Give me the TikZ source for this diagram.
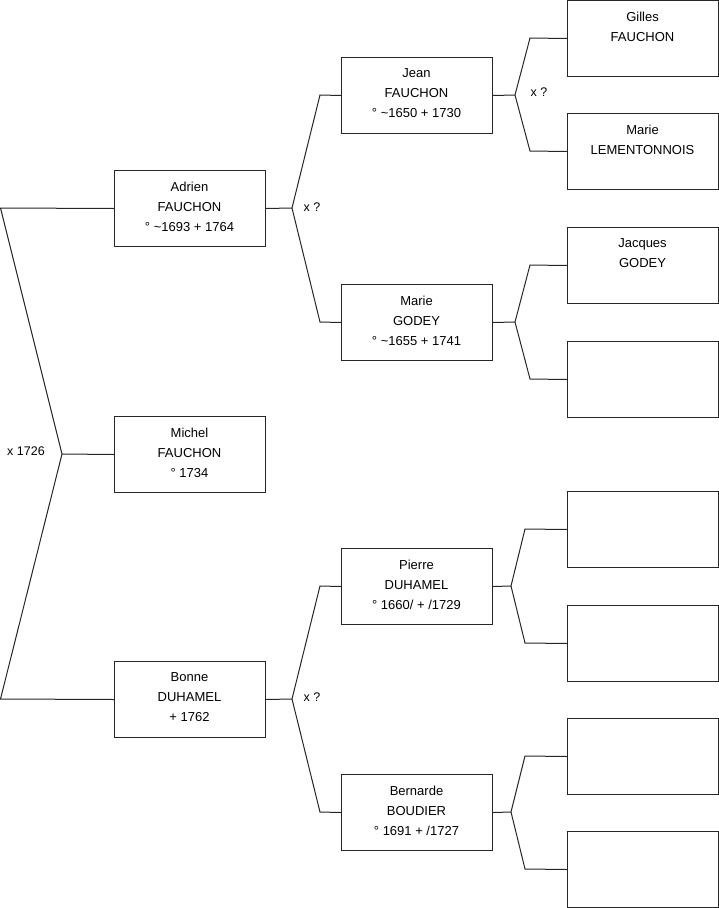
\documentclass[tikz,border=0pt]{standalone}
\usepackage{fontspec}
\setmainfont{Liberation Sans}
\begin{document}
\begin{tikzpicture}[x=1pt,y=-1pt,
  pbox/.style={draw=black!85,line width=1pt,fill=white,minimum width=151pt,minimum height=76pt,inner sep=0pt,anchor=north west},
  ptext/.style={anchor=north,inner sep=0pt,align=center,font=\fontsize{13}{20}\selectfont},
  conn/.style={draw=black!85,line width=1pt},
  lbl/.style={inner sep=0pt,font=\fontsize{12.5}{14}\selectfont}]
\useasboundingbox (0,0) rectangle (719,908);
% generation 1
\node[pbox] (A) at (114,170) {};
\node[pbox] (M) at (114,416) {};
\node[pbox] (B) at (114,661) {};
% generation 2
\node[pbox] (J) at (341,57) {};
\node[pbox] (G) at (341,284) {};
\node[pbox] (P) at (341,548) {};
\node[pbox] (BB) at (341,774) {};
% generation 3
\node[pbox] (g1) at (567,0) {};
\node[pbox] (g2) at (567,113) {};
\node[pbox] (g3) at (567,227) {};
\node[pbox] (g4) at (567,341) {};
\node[pbox] (g5) at (567,491) {};
\node[pbox] (g6) at (567,605) {};
\node[pbox] (g7) at (567,718) {};
\node[pbox] (g8) at (567,831) {};
% texts
\node[ptext] (tA) at (189.5,181.5) {Adrien\\FAUCHON\\° \textasciitilde 1693 + 1764};
\node[ptext] (tM) at (189.5,427.5) {Michel\\FAUCHON\\° 1734};
\node[ptext] (tB) at (189.5,672.5) {Bonne\\DUHAMEL\\+ 1762};
\node[ptext] (tJ) at (416.5,68.5) {Jean\\FAUCHON\\° \textasciitilde 1650 + 1730};
\node[ptext] (tG) at (416.5,295.5) {Marie\\GODEY\\° \textasciitilde 1655 + 1741};
\node[ptext] (tP) at (416.5,559.5) {Pierre\\DUHAMEL\\° 1660/ + /1729};
\node[ptext] (tBB) at (416.5,785.5) {Bernarde\\BOUDIER\\° 1691 + /1727};
\node[ptext] (t1) at (642.5,11.5) {Gilles\\FAUCHON};
\node[ptext] (t2) at (642.5,124.5) {Marie\\LEMENTONNOIS};
\node[ptext] (t3) at (642.5,238.5) {Jacques\\GODEY};
% junction coordinates
\coordinate (jM) at (62,454);
\coordinate (jMa) at (0.5,208);
\coordinate (jMb) at (0.5,699);
\coordinate (jA) at (292,208);
\coordinate (jAa) at (320,95);
\coordinate (jAb) at (320,322);
\coordinate (jB) at (292,699);
\coordinate (jBa) at (320,586);
\coordinate (jBb) at (320,812);
\coordinate (jJ) at (515,95);
\coordinate (jJa) at (530,38);
\coordinate (jJb) at (530,151);
\coordinate (jG) at (515,322);
\coordinate (jGa) at (530,265);
\coordinate (jGb) at (530,379);
\coordinate (jP) at (511,586);
\coordinate (jPa) at (525,529);
\coordinate (jPb) at (525,643);
\coordinate (jBB) at (511,812);
\coordinate (jBBa) at (525,756);
\coordinate (jBBb) at (525,869);
% connectors
\draw[conn] (M.west) -- (jM);
\draw[conn] (A.west) -- (jMa) -- (jM) -- (jMb) -- (B.west);
\draw[conn] (A.east) -- (jA);
\draw[conn] (J.west) -- (jAa) -- (jA) -- (jAb) -- (G.west);
\draw[conn] (B.east) -- (jB);
\draw[conn] (P.west) -- (jBa) -- (jB) -- (jBb) -- (BB.west);
\draw[conn] (J.east) -- (jJ);
\draw[conn] (g1.west) -- (jJa) -- (jJ) -- (jJb) -- (g2.west);
\draw[conn] (G.east) -- (jG);
\draw[conn] (g3.west) -- (jGa) -- (jG) -- (jGb) -- (g4.west);
\draw[conn] (P.east) -- (jP);
\draw[conn] (g5.west) -- (jPa) -- (jP) -- (jPb) -- (g6.west);
\draw[conn] (BB.east) -- (jBB);
\draw[conn] (g7.west) -- (jBBa) -- (jBB) -- (jBBb) -- (g8.west);
% labels
\node[lbl] (x1) at (26,451) {x 1726};
\node[lbl] (x2) at (312,207) {x ?};
\node[lbl] (x3) at (539,92) {x ?};
\node[lbl] (x4) at (312,697) {x ?};
\end{tikzpicture}
\end{document}
